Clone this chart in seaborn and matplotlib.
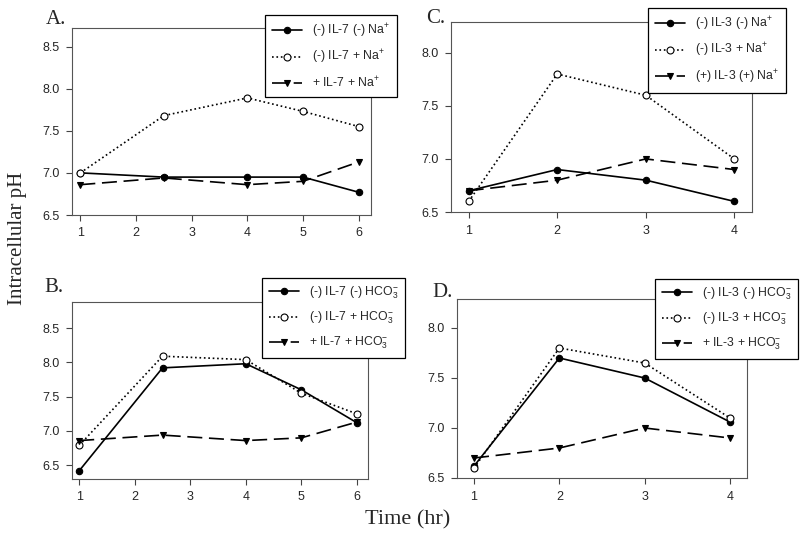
import matplotlib
matplotlib.use("Agg")
import matplotlib.pyplot as plt
import seaborn as sns

sns.set_style("white")
plt.rcParams["font.family"] = ["Liberation Sans", "DejaVu Sans"]
plt.rcParams["mathtext.fontset"] = "custom"
plt.rcParams["mathtext.rm"] = "Liberation Sans"
plt.rcParams["mathtext.it"] = "Liberation Sans:italic"

# Data
time_il7 = [1, 2.5, 4, 5, 6]
time_il3 = [1, 2, 3, 4]

a_no_il7_no_na = [7.00, 6.95, 6.95, 6.95, 6.77]
a_no_il7_na = [7.00, 7.68, 7.89, 7.73, 7.55]
a_il7_na = [6.86, 6.94, 6.86, 6.90, 7.13]

b_no_il7_no_hco3 = [6.42, 7.92, 7.98, 7.60, 7.12]
b_no_il7_hco3 = [6.79, 8.09, 8.04, 7.55, 7.25]
b_il7_hco3 = [6.86, 6.94, 6.86, 6.90, 7.13]

c_no_il3_no_na = [6.70, 6.90, 6.80, 6.60]
c_no_il3_na = [6.60, 7.80, 7.60, 7.00]
c_il3_na = [6.70, 6.80, 7.00, 6.90]

d_no_il3_no_hco3 = [6.62, 7.70, 7.50, 7.06]
d_no_il3_hco3 = [6.60, 7.80, 7.65, 7.10]
d_il3_hco3 = [6.70, 6.80, 7.00, 6.90]

labels_a = [r"(-) IL-7 (-) Na$^{+}$", r"(-) IL-7 + Na$^{+}$", r"+ IL-7 + Na$^{+}$"]
labels_b = [r"(-) IL-7 (-) HCO$_{3}^{-}$", r"(-) IL-7 + HCO$_{3}^{-}$", r"+ IL-7 + HCO$_{3}^{-}$"]
labels_c = [r"(-) IL-3 (-) Na$^{+}$", r"(-) IL-3 + Na$^{+}$", r"(+) IL-3 (+) Na$^{+}$"]
labels_d = [r"(-) IL-3 (-) HCO$_{3}^{-}$", r"(-) IL-3 + HCO$_{3}^{-}$", r"+ IL-3 + HCO$_{3}^{-}$"]

W, H = 800, 533
fig = plt.figure(figsize=(8, 5.33), dpi=100)


def px_axes(left, top, right, bottom):
    return fig.add_axes([left / W, 1 - bottom / H, (right - left) / W, (bottom - top) / H])


def draw_panel(ax, x, series, labels, xlim, ylim, yticks, xticks, letter, letter_xy, leg_xy):
    styles = [
        dict(linestyle="-", marker="o", markersize=4.6, markerfacecolor="black"),
        dict(linestyle=":", marker="o", markersize=5, markerfacecolor="white"),
        dict(linestyle=(0, (9, 4)), marker="v", markersize=5, markerfacecolor="black"),
    ]
    for y, lab, st in zip(series, labels, styles):
        sns.lineplot(x=x, y=y, ax=ax, color="black", linewidth=1.2,
                     markeredgecolor="black", markeredgewidth=0.8, label=lab, **st)
    ax.set_xlim(*xlim)
    ax.set_ylim(*ylim)
    ax.set_xticks(xticks)
    ax.set_yticks(yticks)
    ax.set_yticklabels([f"{t:.1f}" for t in yticks])
    ax.tick_params(axis="both", which="both", direction="out", length=4, width=0.8,
                   color="#444444", labelsize=9, left=True, bottom=True, pad=5)
    for sp in ax.spines.values():
        sp.set_color("#555555")
        sp.set_linewidth(0.8)
    ax.set_xlabel("")
    ax.set_ylabel("")
    fig.text(letter_xy[0] / W, 1 - letter_xy[1] / H, letter, family="Liberation Serif",
             fontsize=15, ha="left", va="baseline")
    leg = ax.legend(loc="upper left", bbox_to_anchor=(leg_xy[0] / W, 1 - leg_xy[1] / H),
                    bbox_transform=fig.transFigure, borderaxespad=0, fontsize=8.8,
                    frameon=True, fancybox=False, framealpha=1, edgecolor="black",
                    handlelength=2.5, labelspacing=0.7, borderpad=0.55, handletextpad=0.8)
    leg.get_frame().set_linewidth(0.9)


ax_a = px_axes(72, 28, 371, 215)
draw_panel(ax_a, time_il7, [a_no_il7_no_na, a_no_il7_na, a_il7_na], labels_a,
           (0.85, 6.22), (6.5, 8.72), [6.5, 7.0, 7.5, 8.0, 8.5], [1, 2, 3, 4, 5, 6],
           "A.", (46, 24), (265, 15))

ax_c = px_axes(451, 22, 752, 212)
draw_panel(ax_c, time_il3, [c_no_il3_no_na, c_no_il3_na, c_il3_na], labels_c,
           (0.8, 4.2), (6.5, 8.29), [6.5, 7.0, 7.5, 8.0], [1, 2, 3, 4],
           "C.", (426, 23), (648, 8))

ax_b = px_axes(72, 302, 368, 479)
draw_panel(ax_b, time_il7, [b_no_il7_no_hco3, b_no_il7_hco3, b_il7_hco3], labels_b,
           (0.87, 6.2), (6.3, 8.88), [6.5, 7.0, 7.5, 8.0, 8.5], [1, 2, 3, 4, 5, 6],
           "B.", (44, 292), (262, 278))

ax_d = px_axes(457, 299, 747, 478)
draw_panel(ax_d, time_il3, [d_no_il3_no_hco3, d_no_il3_hco3, d_il3_hco3], labels_d,
           (0.8, 4.2), (6.5, 8.29), [6.5, 7.0, 7.5, 8.0], [1, 2, 3, 4],
           "D.", (432, 297), (655, 279))

fig.text(18 / W, 1 - 238 / H, "Intracellular pH", family="Liberation Serif", fontsize=15,
         rotation=90, ha="center", va="center")
fig.text(408 / W, 1 - 520 / H, "Time (hr)", family="Liberation Serif", fontsize=16,
         ha="center", va="center")

fig.savefig("out.png", dpi=100)
